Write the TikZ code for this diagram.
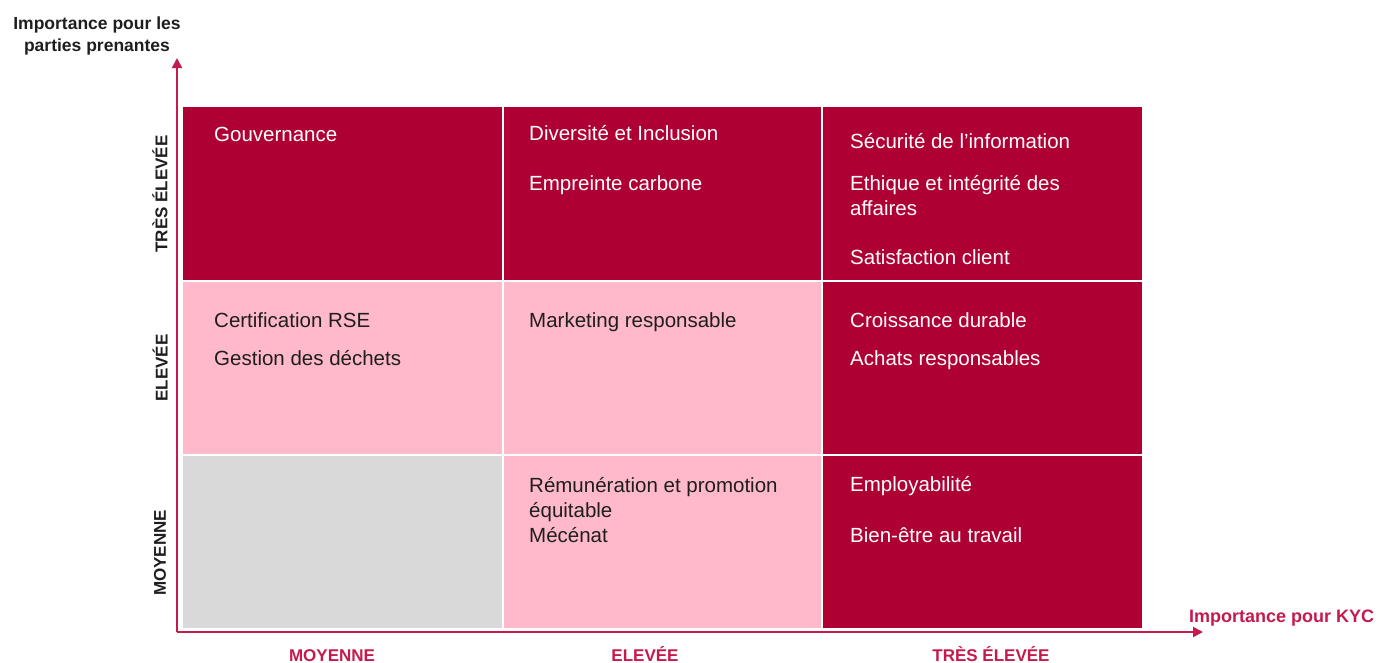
\documentclass[tikz,border=0pt]{standalone}
\usepackage{fontspec}
\setmainfont{Liberation Sans}
\usepackage{xcolor}
\usepackage{tikz}
\usetikzlibrary{arrows.meta}

\definecolor{kycdark}{HTML}{AE0033}
\definecolor{kycpink}{HTML}{FFB9CA}
\definecolor{kycgrey}{HTML}{D9D9D9}
\definecolor{kycaxis}{HTML}{C41A4C}
\definecolor{kycink}{HTML}{1E1E1E}

\begin{document}
\begin{tikzpicture}[x=1pt, y=-1pt,
    item/.style={anchor=base west, inner sep=0pt, align=left, text=kycink, font=\fontsize{20.5}{25}\selectfont},
    lvl/.style={inner sep=0pt, font=\fontsize{17}{20}\selectfont\bfseries},
    axis/.style={kycaxis, line width=2pt, -{Triangle[length=10pt, width=10pt]}}]

    \useasboundingbox (0,0) rectangle (1380,662);

    \fill[kycdark] (183,107) rectangle (503,281); \fill[kycdark] (503,107) rectangle (822,281); \fill[kycdark] (822,107) rectangle (1142,281);
    \fill[kycpink] (183,281) rectangle (503,455); \fill[kycpink] (503,281) rectangle (822,455); \fill[kycdark] (822,281) rectangle (1142,455);
    \fill[kycgrey] (183,455) rectangle (503,628); \fill[kycpink] (503,455) rectangle (822,628); \fill[kycdark] (822,455) rectangle (1142,628);

    \draw[white, line width=1.5pt] (503,107) -- (503,628) (822,107) -- (822,628);
    \draw[white, line width=1.5pt] (183,281) -- (1142,281) (183,455) -- (1142,455);


    \coordinate (origin) at (177,632);
    \coordinate (ytip) at (177,58);
    \coordinate (xtip) at (1203,632);
    \draw[axis] (origin) -- (ytip);
    \draw[axis] (origin) -- (xtip);


    % last line sits on the base anchor
    \node[align=center, inner sep=0pt, anchor=base, text=kycink, font=\fontsize{17.5}{22}\selectfont\bfseries] (ylabel) at (97,51) {Importance pour les\\parties prenantes};
    \node[anchor=base west, inner sep=0pt, text=kycaxis, font=\fontsize{18}{22}\selectfont\bfseries] (xlabel) at (1189,622) {Importance pour KYC};


    \node[lvl, text=kycaxis, anchor=base] (xlow) at (332,661) {MOYENNE};
    \node[lvl, text=kycaxis, anchor=base] (xmid) at (645,661) {ELEVÉE};
    \node[lvl, text=kycaxis, anchor=base] (xhigh) at (991,661) {TRÈS ÉLEVÉE};
    \node[lvl, rotate=90, text=kycink] (yhigh) at (160,194) {TRÈS ÉLEVÉE};
    \node[lvl, rotate=90, text=kycink] (ymid) at (160,368) {ELEVÉE};
    \node[lvl, rotate=90, text=kycink] (ylow) at (160,553) {MOYENNE};


    \node[item, text=white] (gouv) at (214,141) {Gouvernance};
    \node[item, text=white] (divers) at (529,140) {Diversité et Inclusion};
    \node[item, text=white] (carbone) at (529,190) {Empreinte carbone};
    \node[item, text=white] (secu) at (850,148) {Sécurité de l’information};
    \node[item, text=white] (ethique) at (850,215) {Ethique et intégrité des\\affaires};
    \node[item, text=white] (satis) at (850,264) {Satisfaction client};

    \node[item] (certif) at (214,327) {Certification RSE};
    \node[item] (dechets) at (214,365) {Gestion des déchets};
    \node[item] (marketing) at (529,327) {Marketing responsable};
    \node[item, text=white] (croiss) at (850,327) {Croissance durable};
    \node[item, text=white] (achats) at (850,365) {Achats responsables};

    \node[item] (remun) at (529,542) {Rémunération et promotion\\équitable\\Mécénat};
    \node[item, text=white] (employ) at (850,491) {Employabilité};
    \node[item, text=white] (bienetre) at (850,542) {Bien-être au travail};
\end{tikzpicture}
\end{document}
